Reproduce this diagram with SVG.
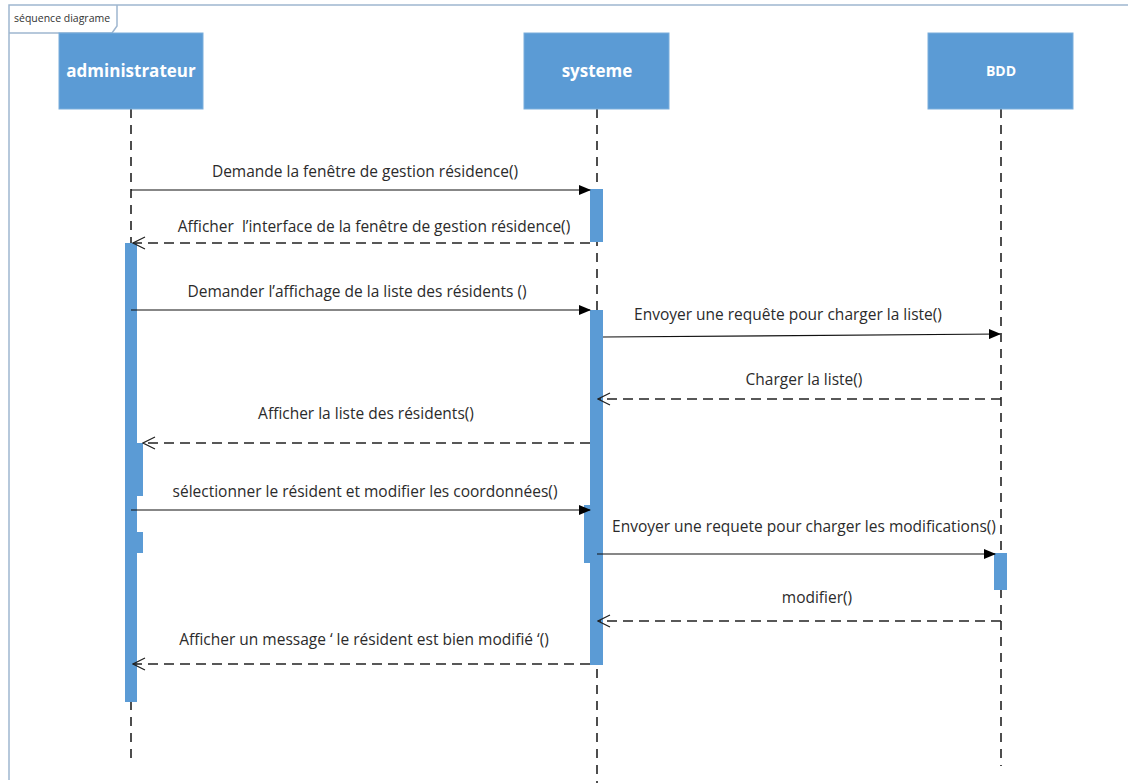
<svg xmlns="http://www.w3.org/2000/svg" width="1128" height="783" viewBox="0 0 1128 783">
<style>
.frame{fill:none;stroke:#9fb6cf;stroke-width:1.5}
.head{fill:#5b9bd5;stroke:#7aaedc;stroke-width:1}
.htxt{fill:#fff;font-family:"Open Sans","Liberation Sans",sans-serif;font-weight:bold;text-anchor:middle}
.life{stroke:#222;stroke-width:1.6;stroke-dasharray:9,7;fill:none}
.act{fill:#5b9bd5}
.msg{stroke:#111;stroke-width:1.2;fill:none}
.ret{stroke:#222;stroke-width:1.5;stroke-dasharray:10,6;fill:none}
.lbl{fill:#2b2b2b;font-family:"Open Sans","Liberation Sans",sans-serif;font-size:15.5px;text-anchor:middle}
</style>
<defs>
<marker id="solid" markerWidth="12" markerHeight="10" refX="11" refY="5" orient="auto" markerUnits="userSpaceOnUse">
<path d="M0,0 L12,5 L0,10 Z" fill="#000"/>
</marker>
<marker id="open" markerWidth="14" markerHeight="14" refX="13" refY="7" orient="auto" markerUnits="userSpaceOnUse">
<path d="M1,1 L13,7 L1,13" fill="none" stroke="#222" stroke-width="1.2"/>
</marker>
</defs>
<rect width="1128" height="783" fill="#fff"/>
<g id="frame">
<path class="frame" d="M9,780 L9,5 L1128,5"/>
<path class="frame" d="M9,33 L112,33 L117,26 L117,5"/>
<text x="14" y="22" font-family="'Open Sans','Liberation Sans',sans-serif" font-size="10.5" fill="#333">séquence diagrame</text>
</g>
<g id="lifelines">
<line class="life" x1="131" y1="109" x2="131" y2="762"/>
<line class="life" x1="597" y1="109" x2="597" y2="783"/>
<line class="life" x1="1001" y1="109" x2="1001" y2="766"/>
</g>
<g id="administrateur">
<rect class="head" x="59" y="33" width="144" height="76"/>
<text class="htxt" x="131" y="77" font-size="17">administrateur</text>
</g>
<g id="systeme">
<rect class="head" x="524" y="33" width="145" height="76"/>
<text class="htxt" x="597" y="77" font-size="17">systeme</text>
</g>
<g id="BDD">
<rect class="head" x="928" y="33" width="145" height="76"/>
<text class="htxt" x="1001" y="76" font-size="14">BDD</text>
</g>
<g id="activations">
<rect class="act" x="125" y="243" width="12" height="459"/>
<rect class="act" x="136" y="443" width="7" height="53"/>
<rect class="act" x="136" y="532" width="7" height="21"/>
<rect class="act" x="590" y="189" width="13" height="53"/>
<rect class="act" x="590" y="310" width="13" height="355"/>
<rect class="act" x="584" y="505" width="13" height="58"/>
<rect class="act" x="994" y="553" width="13" height="37"/>
</g>
<g id="connectors">
<line class="msg" x1="131" y1="190" x2="590" y2="190" marker-end="url(#solid)"/>
<line class="ret" x1="590" y1="243" x2="133" y2="243" marker-end="url(#open)"/>
<line class="msg" x1="131" y1="310" x2="590" y2="310" marker-end="url(#solid)"/>
<line class="msg" x1="603" y1="337" x2="1000" y2="334" marker-end="url(#solid)"/>
<line class="ret" x1="1001" y1="399" x2="598" y2="399" marker-end="url(#open)"/>
<line class="ret" x1="590" y1="443" x2="143" y2="443" marker-end="url(#open)"/>
<line class="msg" x1="131" y1="510" x2="590" y2="510" marker-end="url(#solid)"/>
<line class="msg" x1="597" y1="554" x2="995" y2="554" marker-end="url(#solid)"/>
<line class="ret" x1="1001" y1="621" x2="598" y2="621" marker-end="url(#open)"/>
<line class="ret" x1="590" y1="664" x2="133" y2="664" marker-end="url(#open)"/>
</g>
<g id="labels">
<text class="lbl" x="365" y="177">Demande la fenêtre de gestion résidence()</text>
<text class="lbl" x="374" y="232" xml:space="preserve">Afficher  l’interface de la fenêtre de gestion résidence()</text>
<text class="lbl" x="357" y="297">Demander l’affichage de la liste des résidents ()</text>
<text class="lbl" x="788" y="320">Envoyer une requête pour charger la liste()</text>
<text class="lbl" x="804" y="385">Charger la liste()</text>
<text class="lbl" x="366" y="419">Afficher la liste des résidents()</text>
<text class="lbl" x="365" y="497">sélectionner le résident et modifier les coordonnées()</text>
<text class="lbl" x="804" y="532">Envoyer une requete pour charger les modifications()</text>
<text class="lbl" x="817" y="603">modifier()</text>
<text class="lbl" x="364" y="645">Afficher un message ‘ le résident est bien modifié ‘()</text>
</g>
</svg>
